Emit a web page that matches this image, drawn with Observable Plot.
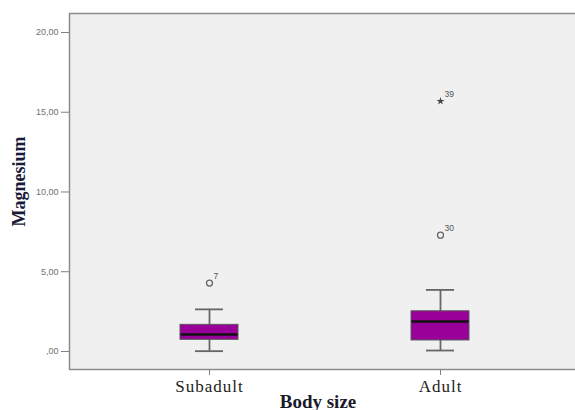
<!DOCTYPE html>
<html>
<head>
<meta charset="utf-8">
<script src="https://cdn.jsdelivr.net/npm/d3@7"></script>
<script src="https://cdn.jsdelivr.net/npm/@observablehq/plot@0.6"></script>
<style>
  html, body { margin: 0; padding: 0; background: #ffffff; overflow: hidden; }
  #chart { width: 575px; height: 410px; overflow: hidden; }
  #chart svg { max-width: none !important; }
  g[aria-label="x-axis tick label"] text { letter-spacing: 1px; }
  g[aria-label="xtitle"] text { letter-spacing: 1.5px; }
  g[aria-label="ytitle"] text { letter-spacing: 0.6px; }
</style>
</head>
<body>
<div id="chart"></div>
<script>
// Data
const categories = ["Subadult", "Adult"];
const whiskerLow = [0.02, 0.06];
const q1 = [0.73, 0.69];
const median = [1.06, 1.88];
const q3 = [1.67, 2.52];
const whiskerHigh = [2.64, 3.86];

const outlierGroup = ["Subadult", "Adult", "Adult"];
const outlierValue = [4.29, 7.29, 15.69];
const outlierCase = ["7", "30", "39"];
const outlierKind = ["circle", "circle", "extreme"];

const yTicks = [0, 5, 10, 15, 20];
const yTickLabels = [",00", "5,00", "10,00", "15,00", "20,00"];

const xTitle = "Body size";
const yTitle = "Magnesium";

const boxes = categories.map((c, i) => ({
  cat: c, lo: whiskerLow[i], q1: q1[i], med: median[i], q3: q3[i], hi: whiskerHigh[i]
}));
const outliers = outlierGroup.map((g, i) => ({
  cat: g, v: outlierValue[i], label: outlierCase[i], kind: outlierKind[i]
}));
const circles = outliers.filter(d => d.kind === "circle");
const extremes = outliers.filter(d => d.kind === "extreme");

const chart = Plot.plot({
  width: 590,
  height: 410,
  marginLeft: 69,
  marginRight: 10,
  marginTop: 13,
  marginBottom: 41,
  style: { background: "transparent", overflow: "hidden", maxWidth: "none" },
  x: {
    type: "band",
    domain: categories,
    paddingInner: 0.749,
    paddingOuter: 0.48
  },
  y: {
    domain: [-1.13, 21.19]
  },
  marks: [
    Plot.frame({ fill: "#f0f0f0", stroke: "#8c8c8c", strokeWidth: 1.5 }),
    Plot.axisY({
      ticks: yTicks,
      tickFormat: (d) => yTickLabels[yTicks.indexOf(d)],
      tickSize: 8,
      tickPadding: 3,
      stroke: "#808080",
      fill: "#707070",
      fontSize: 9,
      fontFamily: "Liberation Sans, Arial, sans-serif",
      label: null
    }),
    Plot.axisX({
      tickSize: 6,
      tickPadding: 4,
      stroke: "#808080",
      fill: "#222222",
      fontSize: 17,
      fontFamily: "Liberation Serif, Times New Roman, serif",
      label: null
    }),
    // whiskers
    Plot.ruleX(boxes, { x: "cat", y1: "lo", y2: "hi", stroke: "#666666", strokeWidth: 1.8 }),
    // whisker caps
    Plot.tickY(boxes, { x: "cat", y: "hi", stroke: "#666666", strokeWidth: 1.8, insetLeft: 15, insetRight: 15 }),
    Plot.tickY(boxes, { x: "cat", y: "lo", stroke: "#666666", strokeWidth: 1.8, insetLeft: 15, insetRight: 15 }),
    // boxes
    Plot.barY(boxes, { x: "cat", y1: "q1", y2: "q3", fill: "#990099", stroke: "#5a5a5a", strokeWidth: 1 }),
    // medians
    Plot.tickY(boxes, { x: "cat", y: "med", stroke: "#111111", strokeWidth: 2.5, insetLeft: 0.5, insetRight: 0.5 }),
    // outliers
    Plot.dot(circles, { x: "cat", y: "v", r: 3, stroke: "#666666", strokeWidth: 1.3, fill: "none" }),
    Plot.dot(extremes, { x: "cat", y: "v", r: 2.5, symbol: "star", fill: "#444444", stroke: "none" }),
    Plot.text(outliers, {
      x: "cat", y: "v", text: "label", dx: 4, dy: -7, textAnchor: "start",
      fontSize: 8.5, fill: "#555555", fontFamily: "Liberation Sans, Arial, sans-serif"
    }),
    // axis titles
    Plot.text([xTitle], {
      ariaLabel: "xtitle",
      frameAnchor: "bottom", text: d => d, textAnchor: "middle", dx: -7, dy: 38,
      fontSize: 19, fontWeight: "bold", fill: "#1a1a2a",
      fontFamily: "Liberation Serif, Times New Roman, serif"
    }),
    Plot.text([yTitle], {
      ariaLabel: "ytitle",
      frameAnchor: "left", text: d => d, textAnchor: "middle", dx: -50, dy: -10, rotate: -90,
      fontSize: 18, fontWeight: "bold", fill: "#1a1a3a",
      fontFamily: "Liberation Serif, Times New Roman, serif"
    })
  ]
});

document.getElementById("chart").appendChild(chart);
</script>
</body>
</html>
